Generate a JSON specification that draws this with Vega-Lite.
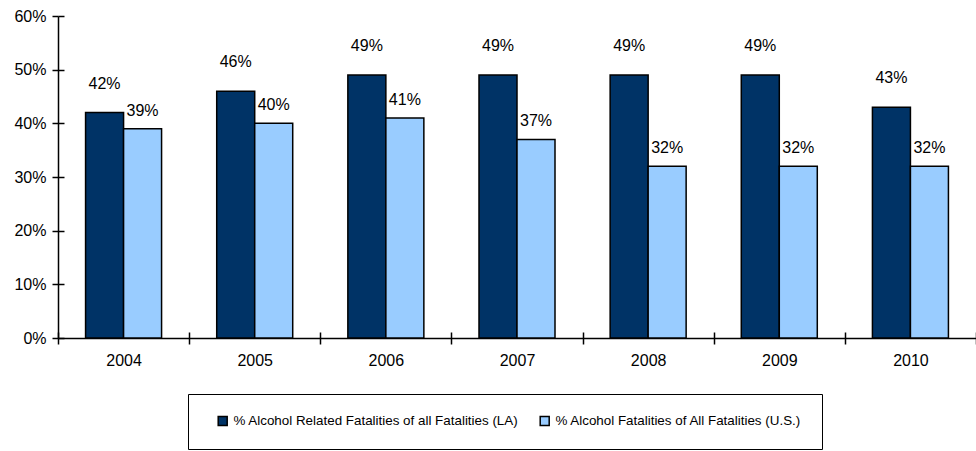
{
  "$schema": "https://vega.github.io/schema/vega-lite/v6.json",
  "width": 918,
  "height": 322,
  "autosize": {"type": "none"},
  "padding": {"left": 58, "top": 16, "right": 0, "bottom": 113},
  "background": "white",
  "config": {
    "view": {"stroke": null},
    "font": "Liberation Sans",
    "axis": {
      "domainColor": "black", "domainWidth": 1.5, "tickColor": "black", "tickWidth": 1.5,
      "labelColor": "black", "labelFont": "Liberation Sans", "labelFontSize": 16, "grid": false, "title": null
    },
    "legend": {
      "labelFont": "Liberation Sans", "labelFontSize": 13.4, "labelColor": "black", "labelLimit": 0
    }
  },
  "data": {
    "values": [
      {"year": "2004", "series": "% Alcohol Related Fatalities of all Fatalities (LA)", "value": 0.42},
      {"year": "2004", "series": "% Alcohol Fatalities of All Fatalities (U.S.)", "value": 0.39},
      {"year": "2005", "series": "% Alcohol Related Fatalities of all Fatalities (LA)", "value": 0.46},
      {"year": "2005", "series": "% Alcohol Fatalities of All Fatalities (U.S.)", "value": 0.40},
      {"year": "2006", "series": "% Alcohol Related Fatalities of all Fatalities (LA)", "value": 0.49},
      {"year": "2006", "series": "% Alcohol Fatalities of All Fatalities (U.S.)", "value": 0.41},
      {"year": "2007", "series": "% Alcohol Related Fatalities of all Fatalities (LA)", "value": 0.49},
      {"year": "2007", "series": "% Alcohol Fatalities of All Fatalities (U.S.)", "value": 0.37},
      {"year": "2008", "series": "% Alcohol Related Fatalities of all Fatalities (LA)", "value": 0.49},
      {"year": "2008", "series": "% Alcohol Fatalities of All Fatalities (U.S.)", "value": 0.32},
      {"year": "2009", "series": "% Alcohol Related Fatalities of all Fatalities (LA)", "value": 0.49},
      {"year": "2009", "series": "% Alcohol Fatalities of All Fatalities (U.S.)", "value": 0.32},
      {"year": "2010", "series": "% Alcohol Related Fatalities of all Fatalities (LA)", "value": 0.43},
      {"year": "2010", "series": "% Alcohol Fatalities of All Fatalities (U.S.)", "value": 0.32}
    ]
  },
  "encoding": {
    "x": {"field": "year", "type": "nominal", "scale": {"paddingInner": 0, "paddingOuter": 0}},
    "xOffset": {"field": "series", "type": "nominal", "sort": ["% Alcohol Related Fatalities of all Fatalities (LA)", "% Alcohol Fatalities of All Fatalities (U.S.)"], "scale": {"paddingInner": 0, "paddingOuter": 0.7255}},
    "y": {"field": "value", "type": "quantitative", "scale": {"domain": [0, 0.6], "nice": false}}
  },
  "layer": [
    {
      "mark": {"type": "bar", "stroke": "black", "strokeWidth": 1.5},
      "encoding": {
        "x": {"field": "year", "type": "nominal", "scale": {"paddingInner": 0, "paddingOuter": 0},
          "axis": {"orient": "bottom", "labelAngle": 0, "tickBand": "extent", "tickSize": 6, "labelPadding": 8}},
        "y": {"field": "value", "type": "quantitative", "scale": {"domain": [0, 0.6], "nice": false},
          "axis": {"orient": "left", "values": [0, 0.1, 0.2, 0.3, 0.4, 0.5, 0.6], "format": ".0%", "tickSize": 6, "labelPadding": 6}},
        "color": {
          "field": "series", "type": "nominal",
          "sort": ["% Alcohol Related Fatalities of all Fatalities (LA)", "% Alcohol Fatalities of All Fatalities (U.S.)"],
          "scale": {"domain": ["% Alcohol Related Fatalities of all Fatalities (LA)", "% Alcohol Fatalities of All Fatalities (U.S.)"], "range": ["#003366", "#99CCFF"]},
          "legend": {
            "title": null, "orient": "none", "legendX": 130, "legendY": 378, "direction": "horizontal",
            "strokeColor": "black", "padding": 20, "symbolOffset": 8, "columnPadding": 11, "labelOffset": 4,
            "symbolType": "square", "symbolSize": 81, "symbolStrokeColor": "black", "symbolStrokeWidth": 1.5
          }
        }
      }
    },
    {
      "transform": [{"filter": "datum.series === '% Alcohol Related Fatalities of all Fatalities (LA)'"}],
      "mark": {"type": "text", "baseline": "alphabetic", "dy": -24, "fontSize": 16, "font": "Liberation Sans", "color": "black"},
      "encoding": {
        "x": {"field": "year", "type": "nominal", "scale": {"paddingInner": 0, "paddingOuter": 0},
          "axis": {"orient": "bottom", "labels": false, "domain": false, "tickBand": "extent", "tickSize": -6}},
        "y": {"field": "value", "type": "quantitative", "scale": {"domain": [0, 0.6], "nice": false},
          "axis": {"orient": "left", "labels": false, "domain": false, "values": [0, 0.1, 0.2, 0.3, 0.4, 0.5, 0.6], "tickSize": -6}},
        "text": {"field": "value", "type": "quantitative", "format": ".0%"}
      }
    },
    {
      "transform": [{"filter": "datum.series === '% Alcohol Fatalities of All Fatalities (U.S.)'"}],
      "mark": {"type": "text", "baseline": "alphabetic", "dy": -13, "fontSize": 16, "font": "Liberation Sans", "color": "black"},
      "encoding": {
        "x": {"field": "year", "type": "nominal", "scale": {"paddingInner": 0, "paddingOuter": 0}, "axis": null},
        "y": {"field": "value", "type": "quantitative", "scale": {"domain": [0, 0.6], "nice": false}, "axis": null},
        "text": {"field": "value", "type": "quantitative", "format": ".0%"}
      }
    }
  ],
  "resolve": {"axis": {"x": "independent", "y": "independent"}}
}
